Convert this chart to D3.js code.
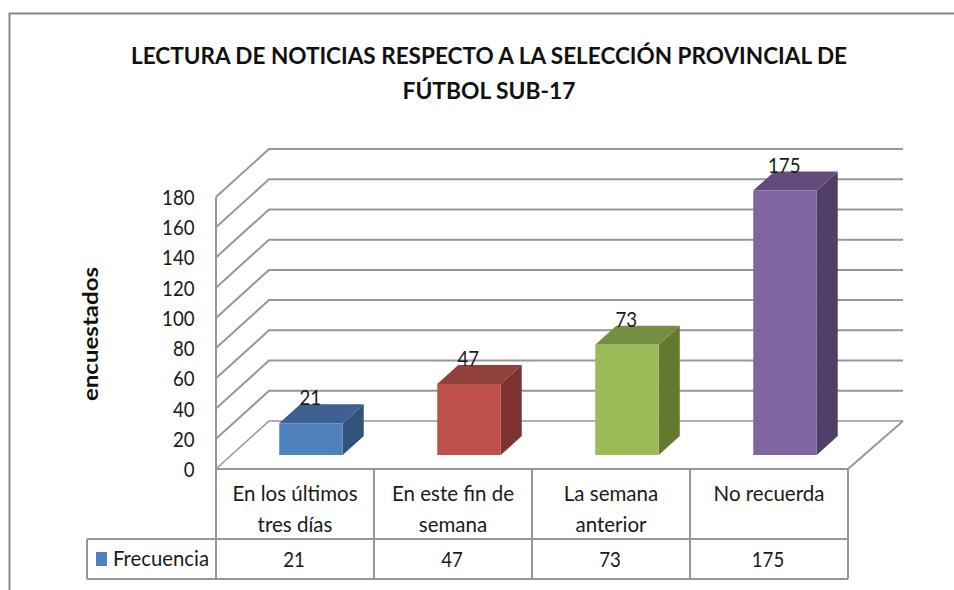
<!DOCTYPE html>
<html><head><meta charset="utf-8">
<script src="https://cdn.jsdelivr.net/npm/d3@7"></script>
<style>html,body{margin:0;padding:0;background:#fff}svg{display:block}text{font-family:Lato,"Open Sans",sans-serif}</style>
</head><body><svg id="c" width="954" height="590"></svg>
<script>
const categories=[["En los últimos","tres días"],["En este fin de","semana"],["La semana","anterior"],["No recuerda"]];
const values=[21,47,73,175];
const colors=["#4f81bd","#c0504d","#9bbb59","#8064a2"];
const topColors=["#3c6090","#91403d","#758e43","#614c7b"];
const sideColors=["#315279","#7c3230","#64782f","#523f68"];
const yTicks=[0,20,40,60,80,100,120,140,160,180];
const titleLines=["LECTURA DE NOTICIAS RESPECTO A LA SELECCIÓN PROVINCIAL DE","FÚTBOL SUB-17"];
const seriesName="Frecuencia";
const yTitle="encuestados";

const svg=d3.select("#c");
const grid="#979797";
const x=d3.scaleBand().domain(d3.range(4)).range([216,848]);
const y=d3.scaleLinear().domain([0,180]).range([469,197]);
const dx=53,dy=-48;
const line=d3.line();
const path=(pts,fill,stroke,w)=>svg.append("path").attr("d",line(pts)+(fill!=="none"?"Z":"")).attr("fill",fill).attr("stroke",stroke||"none").attr("stroke-width",w||0);

// frame
svg.append("path").attr("d","M9.5,590V13.5H954").attr("fill","none").attr("stroke","#868686").attr("stroke-width",2);

// title
titleLines.forEach((t,i)=>svg.append("text").attr("x",489).attr("y",64+i*35).attr("text-anchor","middle")
  .attr("font-size",23.5).attr("font-weight",700).attr("fill","#111").attr("textLength",i==0?716:173).attr("lengthAdjust","spacingAndGlyphs").text(t));

// walls
yTicks.forEach(v=>{
  path([[x.range()[0],y(v)],[x.range()[0]+dx,y(v)+dy],[903,y(v)+dy]],"none",grid,v==0?1.5:2);
});
path([[216,y(180)],[216,y(0)],[848,y(0)],[903,y(0)+dy]],"none",grid,2);

// y labels
svg.append("g").selectAll("text").data(yTicks).join("text").attr("x",194.5).attr("y",d=>y(d)+8).attr("text-anchor","end")
  .attr("font-size",21.5).attr("fill","#1a1a1a").attr("textLength",d=>String(d).length*10.8).attr("lengthAdjust","spacingAndGlyphs").text(d=>d);
svg.append("text").attr("transform","translate(98,334) rotate(-90)").attr("text-anchor","middle").attr("font-size",20).attr("font-weight",700).attr("fill","#111").attr("textLength",134).attr("lengthAdjust","spacingAndGlyphs").text(yTitle);

// bars
const bw=63.5, ox=16, oy=-14, bdx=21, bdy=-19;
values.forEach((v,i)=>{
  const l=x(i)+x.bandwidth()/2-bw/2+ox, r=l+bw, b=y(0)+oy, t=b-(y(0)-y(v));
  path([[r,b],[r+bdx,b+bdy],[r+bdx,t+bdy],[r,t]],sideColors[i]);
  path([[l,t],[l+bdx,t+bdy],[r+bdx,t+bdy],[r,t]],topColors[i]);
  path([[l,t],[r,t],[r,b],[l,b]],colors[i]);
  svg.append("text").attr("x",l+31).attr("y",t+bdy+1).attr("text-anchor","middle").attr("font-size",21.5).attr("fill","#1a1a1a").attr("textLength",String(v).length*10.8).attr("lengthAdjust","spacingAndGlyphs").text(v);
});

// data table
const tb=[469,539,579];
const edges=[...d3.range(4).map(d=>x(d)),x.range()[1]];
edges.forEach(e=>path([[e,tb[0]],[e,tb[2]]],"none",grid,2));
path([[87,tb[1]],[848,tb[1]]],"none",grid,2);
path([[87,tb[2]],[848,tb[2]]],"none",grid,2);
path([[87,tb[1]],[87,tb[2]]],"none",grid,2);
categories.forEach((lines,i)=>{
  lines.forEach((t,j)=>svg.append("text").attr("x",x(i)+x.bandwidth()/2).attr("y",501+j*31).attr("text-anchor","middle").attr("font-size",20.5).attr("fill","#1a1a1a").text(t));
  svg.append("text").attr("x",x(i)+x.bandwidth()/2-1).attr("y",567).attr("text-anchor","middle").attr("font-size",21).attr("fill","#1a1a1a").attr("textLength",String(values[i]).length*10.8).attr("lengthAdjust","spacingAndGlyphs").text(values[i]);
});
svg.append("rect").attr("x",96).attr("y",552).attr("width",11).attr("height",14).attr("fill",colors[0]);
svg.append("text").attr("x",113).attr("y",566).attr("font-size",20.5).attr("fill","#1a1a1a").attr("textLength",96).attr("lengthAdjust","spacingAndGlyphs").text(seriesName);
</script></body></html>
